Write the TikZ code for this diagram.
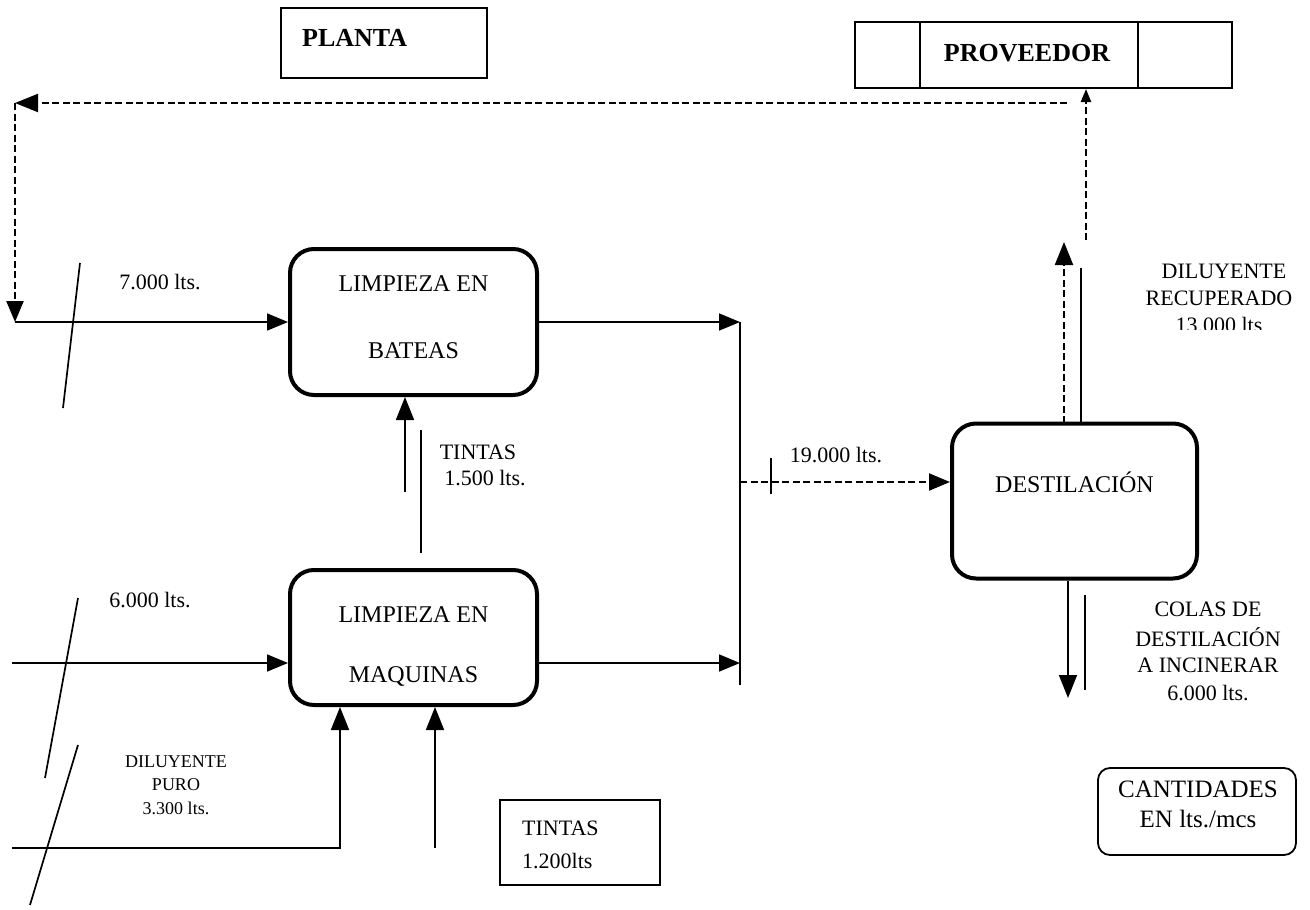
\documentclass[tikz,border=0pt]{standalone}
\usepackage{fontspec}
\setmainfont{Liberation Serif}
\usetikzlibrary{arrows.meta}
\begin{document}
\begin{tikzpicture}[x=1pt,y=-1pt,
  proc/.style={draw,line width=4pt,rounded corners=24pt,inner sep=0pt},
  frame/.style={draw,line width=2pt,inner sep=0pt},
  note/.style={draw,line width=1.8pt,rounded corners=12pt,inner sep=0pt},
  flow/.style={line width=1.7pt},
  feed/.style={line width=2.2pt,dash pattern=on 7pt off 3.5pt},
  tip/.style={-{Triangle[length=23pt,width=18pt]}},
  midtip/.style={-{Triangle[length=21pt,width=17pt]}},
  smalltip/.style={-{Triangle[length=13pt,width=10pt]}},
  txt/.style={font=\fontsize{24}{28}\selectfont,inner sep=0pt},
  lbl/.style={font=\fontsize{22}{26}\selectfont,inner sep=0pt},
  legend/.style={font=\fontsize{25}{29}\selectfont,inner sep=0pt},
  head/.style={font=\bfseries\fontsize{26}{30}\selectfont,inner sep=0pt},
  tiny/.style={font=\fontsize{18}{21}\selectfont,inner sep=0pt},
  slash/.style={line width=1.7pt}
]
\useasboundingbox (0,0) rectangle (1310,910);

% ---- entity boxes ----
\node[frame,minimum width=206pt,minimum height=70pt] (planta) at (384,43) {};
\node[head,anchor=west] (plantaT) at (302,38) {PLANTA};

\node[frame,minimum width=377pt,minimum height=66pt] (prov) at (1043.5,55) {};
\node[draw,line width=2.6pt,inner sep=0pt,minimum width=218pt,minimum height=66pt] (provIn) at (1029,55) {};
\node[head] (provT) at (1027,53) {PROVEEDOR};

% ---- process boxes ----
\node[proc,minimum width=247pt,minimum height=146pt] (bateas) at (413.5,322) {};
\node[txt] (bateasA) at (413.5,284) {LIMPIEZA EN};
\node[txt] (bateasB) at (413.5,351) {BATEAS};

\node[proc,minimum width=247pt,minimum height=135pt] (maq) at (413.5,637.5) {};
\node[txt] (maqA) at (413.5,615) {LIMPIEZA EN};
\node[txt] (maqB) at (413.5,676) {MAQUINAS};

\node[proc,minimum width=245pt,minimum height=155pt] (dest) at (1074.5,501) {};
\node[txt] (destT) at (1074.5,482) {DESTILACIÓN};

% ---- boxes with notes ----
\node[frame,minimum width=160pt,minimum height=85pt] (tintasBox) at (580,842.5) {};
\node[lbl,anchor=west] (tintasA) at (522,828) {TINTAS};
\node[lbl,anchor=west] (tintasB) at (522,861) {1.200lts};

\node[note,minimum width=198pt,minimum height=87pt] (cant) at (1197,811.5) {};
\node[legend] (cantA) at (1198,789) {CANTIDADES};
\node[legend] (cantB) at (1198,819) {EN lts./mcs};

% ---- return loop from the supplier ----
\coordinate (loopR) at (1067,103);
\coordinate (loopL) at (15,103);
\coordinate (inA) at (15,322);
\coordinate (recTop) at (1086,240);
\draw[feed,tip] (loopR) -- (loopL);
\draw[feed,midtip] (loopL) -- (inA);
\draw[feed,smalltip] (recTop) -- (recTop |- prov.south);

% ---- feed to the tanks ----
\draw[flow,midtip] (inA) -- (bateas.west);
\coordinate (s1a) at (80,263);
\coordinate (s1b) at (63,408);
\draw[slash] (s1a) -- (s1b);
\node[lbl] (q7000) at (160,282) {7.000 lts.};

% ---- inks into the tanks ----
\coordinate (ink1) at (405,492);
\coordinate (ink1m) at (421,430);
\coordinate (ink1n) at (421,553);
\draw[flow,tip] (ink1) -- (ink1 |- bateas.south);
\draw[flow] (ink1m) -- (ink1n);
\node[lbl] (tin1A) at (478,452) {TINTAS};
\node[lbl] (tin1B) at (485,478) {1.500 lts.};

% ---- collector ----
\coordinate (jTop) at (740,322);
\coordinate (jBot) at (740,685);
\coordinate (jMid) at (740,482);
\coordinate (jMaq) at (740,663);
\draw[flow,midtip] (bateas.east) -- (jTop);
\draw[flow] (jTop) -- (jBot);
\coordinate (maqOut) at (537,663);
\draw[flow,midtip] (maqOut) -- (jMaq);
\draw[feed,midtip] (jMid) -- (jMid -| dest.west);
\coordinate (tk19a) at (771,458);
\coordinate (tk19b) at (771,494);
\draw[flow] (tk19a) -- (tk19b);
\node[lbl] (q19) at (836,455) {19.000 lts.};

% ---- feed to the machines ----
\coordinate (in6) at (12,663);
\draw[flow,midtip] (in6) -- (in6 -| maq.west);
\node[lbl] (q6000) at (150,600) {6.000 lts.};
\coordinate (s2a) at (78,598);
\coordinate (s2b) at (45,778);
\draw[slash] (s2a) -- (s2b);

\coordinate (inD) at (12,848);
\coordinate (inDc) at (340,848);
\draw[flow,tip] (inD) -- (inDc) -- (inDc |- maq.south);
\coordinate (s3a) at (78,745);
\coordinate (s3b) at (30,905);
\draw[slash] (s3a) -- (s3b);
\node[tiny] (dpA) at (176,762) {DILUYENTE};
\node[tiny] (dpB) at (176,785) {PURO};
\node[tiny] (dpC) at (176,808) {3.300 lts.};

\coordinate (ink2) at (435,848);
\draw[flow,tip] (ink2) -- (ink2 |- maq.south);

% ---- distillation outputs ----
\coordinate (recA) at (1064,423);
\coordinate (recB) at (1064,242);
\draw[feed,tip] (recA) -- (recB);
\coordinate (recC) at (1081,423);
\coordinate (recD) at (1081,268);
\draw[flow] (recC) -- (recD);
\node[lbl] (rcA) at (1224,271) {DILUYENTE};
\node[lbl] (rcB) at (1219,298) {RECUPERADO};
\begin{scope}
  \clip (1130,305) rectangle (1310,329);
  \node[lbl] (rcC) at (1219,325) {13.000 lts};
\end{scope}

\coordinate (colA) at (1068,698);
\draw[flow,tip] (colA |- dest.south) -- (colA);
\coordinate (colB) at (1085,595);
\coordinate (colC) at (1085,690);
\draw[flow] (colB) -- (colC);
\node[lbl] (clA) at (1208,609) {COLAS DE};
\node[lbl] (clB) at (1208,637) {DESTILACIÓN};
\node[lbl] (clC) at (1208,665) {A INCINERAR};
\node[lbl] (clD) at (1208,693) {6.000 lts.};
\end{tikzpicture}
\end{document}
